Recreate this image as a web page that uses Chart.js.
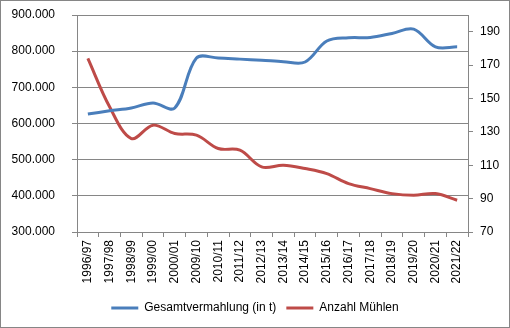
<!DOCTYPE html>
<html>
<head>
<meta charset="utf-8">
<script src="https://cdn.jsdelivr.net/npm/chart.js@4"></script>
<style>
  html, body { margin: 0; padding: 0; background: #fff; }
  #wrap { width: 510px; height: 328px; position: relative; }
</style>
</head>
<body>
<div id="wrap"><canvas id="chart"></canvas></div>
<script>
// Daten
const jahre = ["1996/97", "1997/98", "1998/99", "1999/00", "2000/01", "2009/10", "2010/11", "2011/12",
  "2012/13", "2013/14", "2014/15", "2015/16", "2016/17", "2017/18", "2018/19", "2019/20", "2020/21", "2021/22"];
const vermahlung = [626000, 635000, 643000, 657000, 643000, 781000, 781000, 778000,
  775000, 771000, 770000, 828000, 837000, 838000, 849000, 861000, 812000, 812000];
const muehlen = [174, 145, 126, 134, 129, 128, 120, 119,
  109, 110, 108, 105, 99, 96, 93, 92, 93, 89];
const linksTicks = [300000, 400000, 500000, 600000, 700000, 800000, 900000];
const rechtsTicks = [70, 90, 110, 130, 150, 170, 190];
const rechtsMax = 200;

const grau = "#868686";

function tausender(v) {
  return String(v).replace(/\B(?=(\d{3})+(?!\d))/g, ".");
}

// Rahmen um das ganze Diagramm
const rahmen = {
  id: "rahmen",
  afterDraw(chart) {
    const c = chart.ctx;
    c.save();
    c.strokeStyle = grau;
    c.lineWidth = 1;
    c.strokeRect(0.5, 0.5, chart.width - 1, chart.height - 1);
    c.restore();
  }
};

Chart.defaults.font.family = "'Liberation Sans', Arial, sans-serif";
Chart.defaults.font.size = 12;
Chart.defaults.color = "#000";

new Chart(document.getElementById("chart"), {
  type: "line",
  data: {
    labels: jahre,
    datasets: [
      {
        label: "Gesamtvermahlung (in t)",
        data: vermahlung,
        yAxisID: "y",
        borderColor: "#4A7EBB",
        backgroundColor: "#4A7EBB",
        borderWidth: 3,
        pointRadius: 0,
        tension: 0.35
      },
      {
        label: "Anzahl Mühlen",
        data: muehlen,
        yAxisID: "y1",
        borderColor: "#BE4B48",
        backgroundColor: "#BE4B48",
        borderWidth: 3,
        pointRadius: 0,
        tension: 0.35
      }
    ]
  },
  options: {
    responsive: true,
    maintainAspectRatio: false,
    animation: false,
    layout: { padding: { top: 15, bottom: 4, left: 0, right: 0 } },
    plugins: {
      tooltip: { enabled: false },
      legend: {
        position: "bottom",
        labels: {
          usePointStyle: true,
          pointStyle: "line",
          pointStyleWidth: 27,
          boxHeight: 3,
          padding: 10,
          color: "#000"
        }
      }
    },
    scales: {
      x: {
        offset: true,
        grid: { drawOnChartArea: false, drawTicks: true, tickLength: 5, offset: true, color: grau },
        border: { color: grau },
        ticks: { minRotation: 90, maxRotation: 90, padding: 3, autoSkip: false },
        afterFit(s) { s.height = 60; }
      },
      y: {
        position: "left",
        min: linksTicks[0],
        max: linksTicks[linksTicks.length - 1],
        grid: { color: grau, tickLength: 5 },
        border: { color: grau },
        ticks: { padding: 17, callback: v => tausender(v) },
        afterBuildTicks(s) { s.ticks = linksTicks.map(v => ({ value: v })); },
        afterFit(s) { s.width = 77; s.paddingTop = 0; s.paddingBottom = 0; }
      },
      y1: {
        position: "right",
        min: rechtsTicks[0],
        max: rechtsMax,
        grid: { drawOnChartArea: false, color: grau, tickLength: 5 },
        border: { color: grau },
        ticks: { padding: 7 },
        afterBuildTicks(s) { s.ticks = rechtsTicks.map(v => ({ value: v })); },
        afterFit(s) { s.width = 42; s.paddingTop = 0; s.paddingBottom = 0; }
      }
    }
  },
  plugins: [rahmen]
});
</script>
</body>
</html>
